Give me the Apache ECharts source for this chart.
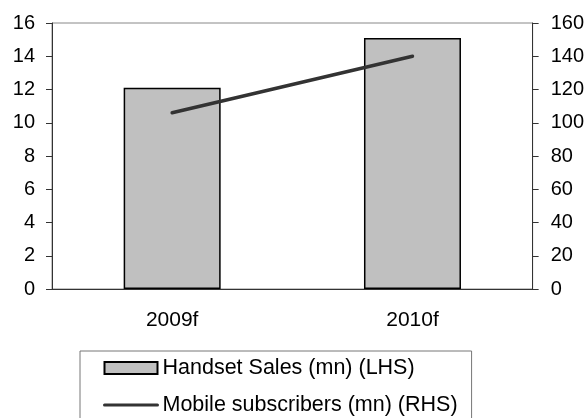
<!DOCTYPE html>
<html>
<head>
<meta charset="utf-8">
<script src="https://cdn.jsdelivr.net/npm/echarts@6/dist/echarts.min.js"></script>
<style>
  html, body { margin: 0; padding: 0; background: #fff; }
  #chart-container { width: 587px; height: 418px; }
</style>
</head>
<body>
<div id="chart-container"></div>
<script>
const categories = ["2009f", "2010f"];
const handsetSales = [12.1, 15.1];
const mobileSubscribers = [106, 140];
const leftTicks = { min: 0, max: 16, interval: 2 };
const rightTicks = { min: 0, max: 160, interval: 20 };

const dom = document.getElementById("chart-container");
const myChart = echarts.init(dom, null, { renderer: "canvas" });

const font = "Liberation Sans, Arial, sans-serif";

const option = {
  animation: false,
  textStyle: { fontFamily: font },
  grid: {
    left: 52,
    right: 53,
    top: 23,
    bottom: 129,
    show: true,
    borderColor: "#888",
    borderWidth: 1,
  },
  legend: {
    orient: "vertical",
    left: 80,
    top: 351,
    height: 120,
    padding: [6, 14, 30, 23],
    itemGap: 15,
    itemWidth: 53,
    itemHeight: 12,
    borderColor: "#777",
    borderWidth: 1,
    textStyle: { fontSize: 21.5, lineHeight: 22, color: "#000", fontFamily: font },
    data: [
      { name: "Handset Sales (mn) (LHS)", icon: "rect" },
      {
        name: "Mobile subscribers (mn) (RHS)",
        itemStyle: { color: "transparent", borderColor: "transparent" },
        lineStyle: { width: 3, color: "#333" },
      },
    ],
  },
  xAxis: {
    type: "category",
    data: categories,
    axisLine: { lineStyle: { color: "#333", width: 1 } },
    axisTick: { lineStyle: { color: "#333" }, length: 5 },
    axisLabel: { fontSize: 21, color: "#000", margin: 21 },
  },
  yAxis: [
    {
      type: "value",
      min: leftTicks.min,
      max: leftTicks.max,
      interval: leftTicks.interval,
      axisLine: { show: true, lineStyle: { color: "#333" } },
      axisTick: { show: true, length: 6, lineStyle: { color: "#333" } },
      axisLabel: { fontSize: 20, color: "#000", margin: 17 },
      splitLine: { show: false },
    },
    {
      type: "value",
      position: "right",
      min: rightTicks.min,
      max: rightTicks.max,
      interval: rightTicks.interval,
      axisLine: { show: true, lineStyle: { color: "#333" } },
      axisTick: { show: true, length: 6, lineStyle: { color: "#333" } },
      axisLabel: { fontSize: 20, color: "#000", margin: 18 },
      splitLine: { show: false },
    },
  ],
  series: [
    {
      name: "Handset Sales (mn) (LHS)",
      type: "bar",
      data: handsetSales,
      barWidth: 97,
      itemStyle: { color: "#c0c0c0", borderColor: "#000", borderWidth: 1.5 },
    },
    {
      name: "Mobile subscribers (mn) (RHS)",
      type: "line",
      yAxisIndex: 1,
      data: mobileSubscribers,
      symbol: "none",
      lineStyle: { color: "#333", width: 3.5, cap: "round" },
      itemStyle: { color: "#333" },
    },
  ],
};

myChart.setOption(option);
</script>
</body>
</html>
